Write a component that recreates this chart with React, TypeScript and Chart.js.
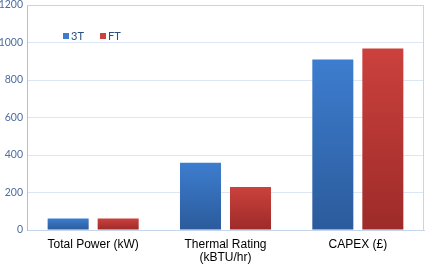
import React, { useEffect, useRef } from "react";
import { Chart, registerables } from "chart.js";

Chart.register(...registerables);

const categories: (string | string[])[] = ["Total Power (kW)", ["Thermal Rating", "(kBTU/hr)"], "CAPEX (£)"];
const series3T = [62, 359, 909];
const seriesFT = [62, 229, 968];
const seriesNames = ["3T", "FT"];
const yTicks = [0, 200, 400, 600, 800, 1000, 1200];

const BLUE_TOP = "#3d7dcf";
const BLUE_BOT = "#2b5b9b";
const RED_TOP = "#cb413d";
const RED_BOT = "#9d2b29";

function gradFor(top: string, bot: string) {
  return (ctx: any) => {
    const chart = ctx.chart;
    const area = chart.chartArea;
    if (!area || ctx.type !== "data") return top;
    const y = chart.scales.y;
    const v = ctx.raw as number;
    const y0 = y.getPixelForValue(v);
    const y1 = y.getPixelForValue(0);
    const g = chart.ctx.createLinearGradient(0, y0, 0, y1);
    g.addColorStop(0, top);
    g.addColorStop(1, bot);
    return g;
  };
}

const framePlugin = {
  id: "frame",
  afterDraw(chart: any) {
    const { ctx, chartArea } = chart;
    ctx.save();
    ctx.strokeStyle = "#c5d5ea";
    ctx.lineWidth = 1;
    ctx.beginPath();
    ctx.moveTo(chartArea.left, chartArea.top + 0.5);
    ctx.lineTo(chartArea.right - 0.5, chartArea.top + 0.5);
    ctx.lineTo(chartArea.right - 0.5, chartArea.bottom);
    ctx.stroke();
    // legend
    const items = [
      { x: 63, color: BLUE_TOP, label: seriesNames[0] },
      { x: 100, color: RED_TOP, label: seriesNames[1] },
    ];
    ctx.font = "11px Lato, 'Open Sans', sans-serif";
    ctx.textBaseline = "middle";
    ctx.textAlign = "left";
    for (const it of items) {
      ctx.fillStyle = it.color;
      ctx.fillRect(it.x, 33, 6, 6);
      ctx.fillStyle = "#2d4f80";
      ctx.fillText(it.label, it.x + 8, 36);
    }
    ctx.restore();
  },
};

export default function App() {
  const ref = useRef<HTMLCanvasElement>(null);
  useEffect(() => {
    document.body.style.margin = "0";
    const chart = new Chart(ref.current!, {
      type: "bar",
      data: {
        labels: categories,
        datasets: [
          { label: seriesNames[0], data: series3T, backgroundColor: gradFor(BLUE_TOP, BLUE_BOT), categoryPercentage: 0.756, barPercentage: 0.82 },
          { label: seriesNames[1], data: seriesFT, backgroundColor: gradFor(RED_TOP, RED_BOT), categoryPercentage: 0.756, barPercentage: 0.82 },
        ],
      },
      options: {
        animation: false,
        responsive: false,
        maintainAspectRatio: false,
        layout: { padding: { top: 0, right: 3, left: 0, bottom: 0 } },
        plugins: { legend: { display: false }, tooltip: { enabled: false } },
        scales: {
          x: {
            grid: { display: false, drawTicks: false },
            border: { color: "#c5d5ea" },
            ticks: {
              color: "#000",
              font: { family: "'Liberation Sans', Arial, sans-serif", size: 12, lineHeight: 1.1 },
              padding: 8,
              maxRotation: 0,
              autoSkip: false,
            },
            afterFit: (s: any) => { s.height = 35; },
          },
          y: {
            min: 0,
            max: 1200,
            afterBuildTicks: (s: any) => { s.ticks = yTicks.map((v) => ({ value: v })); },
            grid: { color: "#dde7f3", drawTicks: false },
            border: { color: "#a9c0e0" },
            ticks: {
              color: "#4d6d9e",
              font: { family: "Lato, 'Open Sans', sans-serif", size: 10.5 },
              padding: 4,
              callback: (v: any) => String(v),
            },
            afterFit: (s: any) => { s.width = 27; s.paddingTop = 5; s.paddingBottom = 0; },
          },
        },
      },
      plugins: [framePlugin],
    });
    return () => chart.destroy();
  }, []);
  return (
    <div style={{ position: "absolute", left: 0, top: 0, width: 427, height: 265, background: "#fff" }}>
      <canvas ref={ref} width={427} height={265} style={{ width: 427, height: 265 }} />
    </div>
  );
}
